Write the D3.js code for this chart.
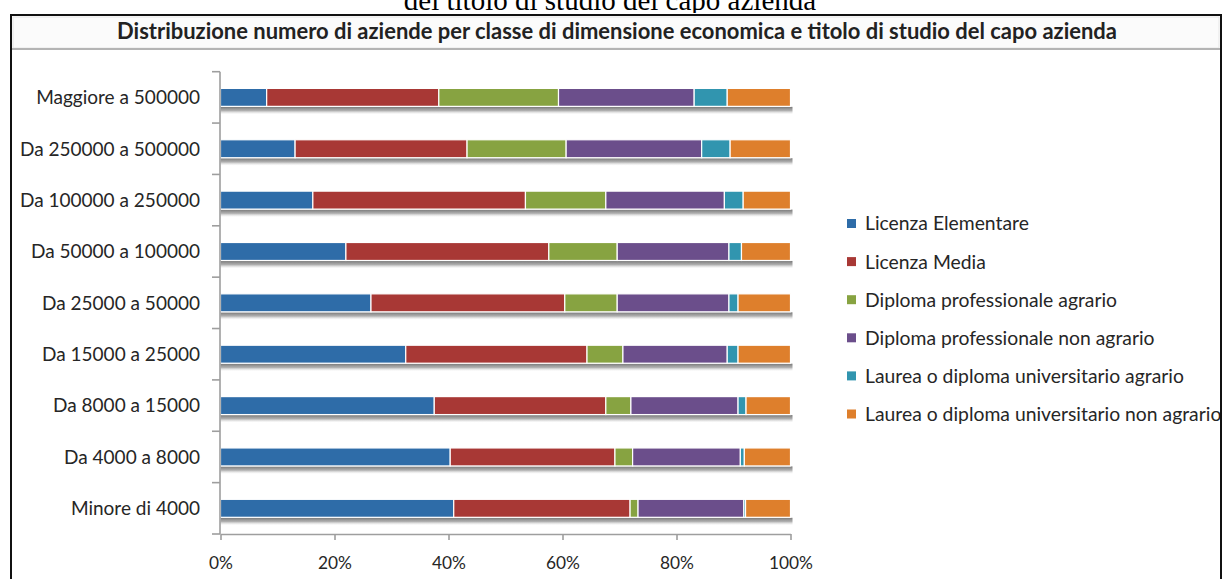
<!DOCTYPE html>
<html><head><meta charset="utf-8">
<script src="https://cdn.jsdelivr.net/npm/d3@7"></script>
<style>html,body{margin:0;padding:0;background:#fff;overflow:hidden;width:1226px;height:579px;position:relative}svg{display:block;position:absolute;left:0;top:0}</style>
</head><body>
<svg id="c" width="1226" height="579"></svg>
<script>
const categories = ["Maggiore a 500000","Da 250000 a 500000","Da 100000 a 250000","Da 50000 a 100000","Da 25000 a 50000","Da 15000 a 25000","Da 8000 a 15000","Da 4000 a 8000","Minore di 4000"];
const seriesNames = ["Licenza Elementare","Licenza Media","Diploma professionale agrario","Diploma professionale non agrario","Laurea o diploma universitario agrario","Laurea o diploma universitario non agrario"];
const licenzaElementare = [8.1,13.1,16.2,22.0,26.4,32.5,37.5,40.3,41.0];
const licenzaMedia = [30.2,30.2,37.3,35.6,34.0,31.8,30.1,28.9,31.0];
const diplomaAgrario = [21.0,17.4,14.1,12.0,9.2,6.3,4.4,3.1,1.4];
const diplomaNonAgrario = [23.8,23.8,20.8,19.6,19.6,18.3,18.8,18.9,18.6];
const laureaAgrario = [5.8,5.0,3.3,2.2,1.6,1.9,1.4,0.7,0.3];
const laureaNonAgrario = [11.1,10.6,8.3,8.6,9.2,9.2,7.8,8.1,7.9];
const xTicks = [0,0.2,0.4,0.6,0.8,1.0];
const colors = ["#2E6CA8","#A83835","#87A341","#6B4E8B","#3195AF","#DE7F2C"];
const pageTitle = "del titolo di studio del capo azienda";
const chartTitle = "Distribuzione numero di aziende per classe di dimensione economica e titolo di studio del capo azienda";

const seriesValues = [licenzaElementare,licenzaMedia,diplomaAgrario,diplomaNonAgrario,laureaAgrario,laureaNonAgrario];
const rows = categories.map((c,i)=>{const o={cat:c}; seriesNames.forEach((s,j)=>o[s]=seriesValues[j][i]); return o;});
const stacked = d3.stack().keys(seriesNames).offset(d3.stackOffsetExpand)(rows);

const svg = d3.select("#c");
const sans = "Lato, 'Open Sans', sans-serif";

function fit(sel, target){
  const w = sel.node().getComputedTextLength();
  const fs = parseFloat(sel.attr("font-size"));
  sel.attr("font-size", (fs*target/w).toFixed(2));
}

const defs = svg.append("defs");

// page heading (cut off at top in the reference) as an HTML strip with overflow hidden
const strip = d3.select("body").append("div")
  .style("position","absolute").style("left","0px").style("top","0px")
  .style("width","1226px").style("height","13px").style("overflow","hidden");
strip.append("div")
  .style("position","absolute").style("left","0px").style("width","1220px").style("top","-16px")
  .style("text-align","center").style("font-family","'Liberation Serif','Times New Roman',serif")
  .style("font-size","29px").style("line-height","32px").style("color","#000")
  .style("white-space","nowrap").text(pageTitle);

// frame
svg.append("rect").attr("x",11).attr("y",15).attr("width",1210).attr("height",600).attr("fill","#fff").attr("stroke","#111").attr("stroke-width",2);
svg.append("rect").attr("x",13).attr("y",17).attr("width",1206).attr("height",31).attr("fill","#fbfbfb").attr("stroke","#e6e6e6").attr("stroke-width",1);
svg.append("line").attr("x1",12).attr("x2",1220).attr("y1",49).attr("y2",49).attr("stroke","#b4b4b4").attr("stroke-width",2);

const ct = svg.append("text").attr("x",617).attr("y",38.5).attr("text-anchor","middle")
  .attr("font-family",sans).attr("font-weight","bold").attr("font-size",17).attr("fill","#222").text(chartTitle);
fit(ct,1000);

const x = d3.scaleLinear().domain([0,1]).range([220.5,790.5]);
const y = d3.scaleBand().domain(categories).range([71.7,534]).padding(0);
const barH = y.step()*0.35;
const barY = c => y(c) + (y.bandwidth()-barH)/2;

// shadow gradient
const g = defs.append("linearGradient").attr("id","sh").attr("x1",0).attr("x2",0).attr("y1",0).attr("y2",1);
g.append("stop").attr("offset","0%").attr("stop-color","#6a6a6a").attr("stop-opacity",0.9);
g.append("stop").attr("offset","50%").attr("stop-color","#858585").attr("stop-opacity",0.65);
g.append("stop").attr("offset","100%").attr("stop-color","#d8d8d8").attr("stop-opacity",0);

svg.append("g").selectAll("rect").data(categories).join("rect")
  .attr("x",x(0)).attr("width",x(1)-x(0)+2)
  .attr("y",c=>barY(c)+barH+0.5).attr("height",7.5).attr("fill","url(#sh)");

// bars
svg.append("g").selectAll("g").data(stacked).join("g").attr("fill",(d,i)=>colors[i])
  .selectAll("rect").data(d=>d).join("rect")
  .attr("x",d=>x(d[0])).attr("width",d=>Math.max(0,x(d[1])-x(d[0])))
  .attr("y",d=>barY(d.data.cat)).attr("height",barH)
  .attr("stroke","#fff").attr("stroke-width",1.2);

// y axis
const axisColor = "#9e9e9e";
svg.append("line").attr("x1",220).attr("x2",220).attr("y1",71.7).attr("y2",534).attr("stroke",axisColor).attr("stroke-width",1.6);
const yTickPos = categories.map(c=>y(c)).concat([534]);
svg.append("g").selectAll("line").data(yTickPos).join("line")
  .attr("x1",212).attr("x2",220).attr("y1",d=>d).attr("y2",d=>d).attr("stroke",axisColor).attr("stroke-width",1.6);
const yl = svg.append("g").selectAll("text").data(categories).join("text")
  .attr("x",200).attr("y",c=>y(c)+y.bandwidth()/2).attr("dy","0.36em").attr("text-anchor","end")
  .attr("font-family",sans).attr("font-size",16).attr("fill","#262626").text(c=>c);
{ const n = yl.filter(c=>c==="Maggiore a 500000"); const w=n.node().getComputedTextLength(); yl.attr("font-size",(16*164/w).toFixed(2)); }

// x axis
const xa = svg.append("g").attr("transform","translate(0,534)")
  .call(d3.axisBottom(x).tickValues(xTicks).tickFormat(d3.format(".0%")).tickSize(6).tickSizeOuter(0));
xa.select(".domain").attr("stroke",axisColor).attr("stroke-width",1.6);
xa.selectAll(".tick line").attr("stroke",axisColor).attr("stroke-width",1.6);
xa.selectAll(".tick text").attr("font-family",sans).attr("font-size",16).attr("fill","#262626");
{ const n = xa.selectAll(".tick text").filter(d=>d===1).node(); const w=n.getComputedTextLength(); xa.selectAll(".tick text").attr("font-size",(16*44/w).toFixed(2)); }
xa.selectAll(".tick text").attr("y",30.5).attr("dy",null).attr("dominant-baseline","middle");

// legend
const lg = svg.append("g");
const ly = i => 223.5 + i*38.1;
lg.selectAll("rect").data(seriesNames).join("rect")
  .attr("x",847).attr("y",(d,i)=>ly(i)-4.5).attr("width",9).attr("height",9).attr("fill",(d,i)=>colors[i]);
const lt = lg.selectAll("text").data(seriesNames).join("text")
  .attr("x",865).attr("y",(d,i)=>ly(i)).attr("dy","0.36em")
  .attr("font-family",sans).attr("font-size",17).attr("fill","#262626").text(d=>d);
{ const w = lt.filter((d,i)=>i===0).node().getComputedTextLength(); lt.attr("font-size",(17*164/w).toFixed(2)); }
// clip at right frame
svg.append("rect").attr("x",1222).attr("y",0).attr("width",10).attr("height",579).attr("fill","#fff");
svg.append("line").attr("x1",1221).attr("x2",1221).attr("y1",14).attr("y2",579).attr("stroke","#111").attr("stroke-width",2);
</script>
</body></html>
